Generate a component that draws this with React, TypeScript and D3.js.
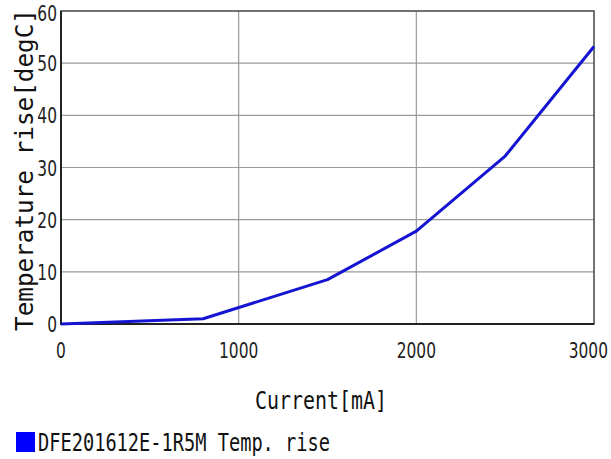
import React, { useEffect, useRef } from 'react'
import * as d3 from 'd3'

// measured points of the temperature rise curve
const currents = [0, 800, 1500, 2000, 2500, 3000]
const tempRise = [0, 1, 8.5, 17.8, 32.2, 53.2]
const xTicks = [0, 1000, 2000, 3000]
const yTicks = [0, 10, 20, 30, 40, 50, 60]
const seriesName = 'DFE201612E-1R5M Temp. rise'

const W = 611
const H = 459
const margin = { left: 61, right: 17, top: 11, bottom: 135 }

const MONO = '"DejaVu Sans Mono", "Liberation Mono", monospace'
const NARROW = '"DejaVu Sans Condensed", "Liberation Sans Narrow", sans-serif'
const SQUEEZE = 0.78

export default function App() {
  const svgRef = useRef<SVGSVGElement>(null)

  useEffect(() => {
    if (!svgRef.current) return
    const svg = d3.select(svgRef.current)
    svg.selectAll('*').remove()

    const x = d3.scaleLinear().domain([0, 3000]).range([margin.left, W - margin.right])
    const y = d3.scaleLinear().domain([0, 60]).range([H - margin.bottom, margin.top])

    svg.append('rect').attr('width', W).attr('height', H).attr('fill', '#fff')

    // grid
    svg.append('g')
      .selectAll('line')
      .data(yTicks.slice(1, -1))
      .join('line')
      .attr('x1', x(0)).attr('x2', x(3000))
      .attr('y1', d => y(d)).attr('y2', d => y(d))
      .attr('stroke', '#9a9a9a').attr('stroke-width', 1.2)

    svg.append('g')
      .selectAll('line')
      .data(xTicks.slice(1, -1))
      .join('line')
      .attr('y1', y(0)).attr('y2', y(60))
      .attr('x1', d => x(d)).attr('x2', d => x(d))
      .attr('stroke', '#9a9a9a').attr('stroke-width', 1.2)

    // frame
    svg.append('rect')
      .attr('x', x(0)).attr('y', y(60))
      .attr('width', x(3000) - x(0)).attr('height', y(0) - y(60))
      .attr('fill', 'none').attr('stroke', '#444').attr('stroke-width', 1.5)
    svg.append('path')
      .attr('d', `M${x(0)},${y(60)}V${y(0)}H${x(3000)}`)
      .attr('fill', 'none').attr('stroke', '#222').attr('stroke-width', 2)

    // line
    const line = d3.line<number>()
      .x((_, i) => x(currents[i]))
      .y(d => y(d))
    svg.append('path')
      .datum(tempRise)
      .attr('d', line)
      .attr('fill', 'none')
      .attr('stroke', '#1414d2')
      .attr('stroke-width', 3)
      .attr('stroke-linejoin', 'round')

    // tick labels (horizontally squeezed)
    svg.append('g')
      .selectAll('text')
      .data(yTicks)
      .join('text')
      .attr('transform', d => `translate(${x(0) - 4},${Math.max(y(d) + 8, 21)}) scale(${SQUEEZE},1)`)
      .attr('text-anchor', 'end')
      .attr('font-family', NARROW)
      .attr('font-size', 22)
      .attr('fill', '#222')
      .text(d => d)

    svg.append('g')
      .selectAll('text')
      .data(xTicks)
      .join('text')
      .attr('transform', (d, i) =>
        i === xTicks.length - 1
          ? `translate(${W - 3},358) scale(${SQUEEZE},1)`
          : `translate(${x(d)},358) scale(${SQUEEZE},1)`)
      .attr('text-anchor', (_, i) => (i === xTicks.length - 1 ? 'end' : 'middle'))
      .attr('font-family', NARROW)
      .attr('font-size', 22)
      .attr('fill', '#222')
      .text(d => d)

    // axis titles
    svg.append('text')
      .attr('x', 255).attr('y', 409)
      .attr('font-family', MONO).attr('font-size', 25)
      .attr('fill', '#111')
      .attr('textLength', 132).attr('lengthAdjust', 'spacingAndGlyphs')
      .text('Current[mA]')

    svg.append('text')
      .attr('transform', `translate(33,331) rotate(-90)`)
      .attr('font-family', MONO).attr('font-size', 25)
      .attr('fill', '#111')
      .attr('textLength', 322).attr('lengthAdjust', 'spacingAndGlyphs')
      .text('Temperature rise[degC]')

    // legend
    svg.append('rect')
      .attr('x', 16).attr('y', 432).attr('width', 19).attr('height', 20)
      .attr('fill', '#0000ff')
    svg.append('text')
      .attr('x', 38).attr('y', 451)
      .attr('font-family', MONO).attr('font-size', 24)
      .attr('fill', '#111')
      .attr('textLength', 292).attr('lengthAdjust', 'spacingAndGlyphs')
      .text(seriesName)
  }, [])

  return (
    <svg
      ref={svgRef}
      width={W}
      height={H}
      style={{ position: 'absolute', left: 0, top: 0, display: 'block' }}
    />
  )
}
